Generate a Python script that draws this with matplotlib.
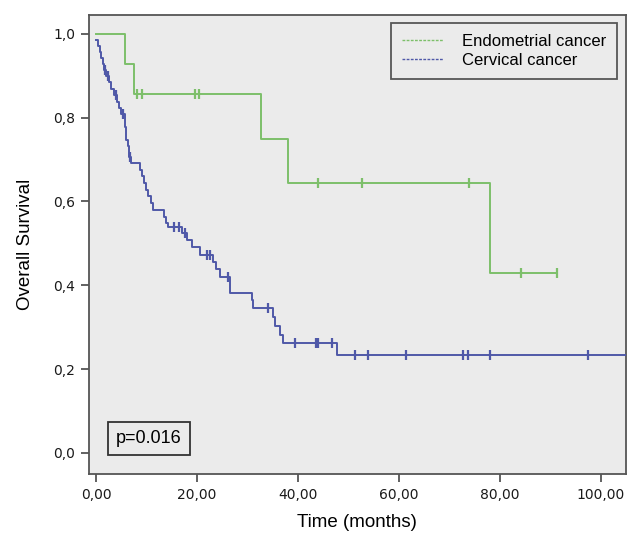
import numpy as np
import matplotlib
matplotlib.use("Agg")
import matplotlib.pyplot as plt

# Kaplan-Meier curves (time in months, survival)
endo_time = [0.0, 5.7, 7.5, 32.7, 38.0, 78.0, 91.3]
endo_surv = [1.0, 0.929, 0.857, 0.750, 0.643, 0.429, 0.429]
endo_cens = [8.1, 9.1, 19.6, 20.4, 44.0, 52.7, 73.9, 84.2, 91.3]

cerv_time = [0.0, 0.4, 0.7, 1.0, 1.3, 1.6, 2.0, 2.6, 3.0, 3.5, 4.1, 4.6, 5.0,
             5.7, 5.8, 5.9, 6.0, 6.3, 6.5, 6.6, 7.0, 8.7, 9.1, 9.5, 9.8, 10.2,
             10.8, 11.3, 13.4, 13.9, 14.3, 17.0, 18.0, 19.0, 20.5, 23.2, 23.8,
             24.6, 26.5, 26.6, 30.9, 31.0, 35.0, 35.4, 36.4, 37.0, 47.7, 105.0]
cerv_surv = [0.986, 0.971, 0.957, 0.942, 0.928, 0.913, 0.899, 0.884, 0.869,
             0.854, 0.838, 0.823, 0.808, 0.792, 0.777, 0.762, 0.747, 0.732,
             0.717, 0.707, 0.692, 0.676, 0.660, 0.644, 0.628, 0.612, 0.596,
             0.580, 0.564, 0.548, 0.540, 0.525, 0.508, 0.491, 0.473, 0.455,
             0.438, 0.420, 0.400, 0.382, 0.364, 0.346, 0.324, 0.302, 0.282,
             0.263, 0.234, 0.234]
cerv_cens = [1.8, 2.4, 4.0, 5.3, 6.8, 15.5, 16.4, 17.6, 21.9, 22.6, 26.1, 34.1,
             39.4, 43.5, 44.0, 46.7, 51.3, 53.9, 61.4, 72.6, 73.7, 78.0, 97.4]

y_ticks = [0.0, 0.2, 0.4, 0.6, 0.8, 1.0]
y_labels = ["0,0", "0,2", "0,4", "0,6", "0,8", "1,0"]
x_ticks = [0, 20, 40, 60, 80, 100]
x_labels = ["0,00", "20,00", "40,00", "60,00", "80,00", "100,00"]

green = "#7dbf6a"
blue = "#4f58a8"
frame = "#555555"
bg = "#ebebeb"

fig = plt.figure(figsize=(6.36, 5.33), dpi=100)
ax = fig.add_axes([0.140, 0.111, 0.844, 0.861])
ax.set_facecolor(bg)


def surv_at(times, survs, t):
    i = np.searchsorted(times, t, side="right") - 1
    return np.asarray(survs)[i]


for tt, ss, cc, col, name in [(endo_time, endo_surv, endo_cens, green, "Endometrial cancer"),
                              (cerv_time, cerv_surv, cerv_cens, blue, "Cervical cancer")]:
    ax.step(tt, ss, where="post", color=col, lw=1.4, zorder=3)
    ax.plot(cc, surv_at(tt, ss, cc), ls="none", marker="|", ms=6.5, mew=1.6,
            color=col, zorder=4)
    # legend proxy, dotted like the SPSS legend
    ax.plot([], [], color=col, ls=(0, (2, 1)), lw=1.0, label=name)

ax.set_xlim(-1.4, 104.95)
ax.set_ylim(-0.05, 1.045)
ax.set_xticks(x_ticks)
ax.set_xticklabels(x_labels)
ax.set_yticks(y_ticks)
ax.set_yticklabels(y_labels)
ax.tick_params(direction="out", length=6, width=1.3, color=frame,
               labelsize=10, labelcolor="#1a1a1a", pad=4)
for sp in ax.spines.values():
    sp.set_color(frame)
    sp.set_linewidth(1.3)

ax.set_xlabel("Time (months)", fontsize=13.5, family="Liberation Sans", labelpad=9)
ax.set_ylabel("Overall Survival", fontsize=13.5, family="Liberation Sans", labelpad=14)

leg = ax.legend(loc="upper right", bbox_to_anchor=(0.983, 0.983), frameon=True,
                fancybox=False, facecolor=bg, edgecolor="#333333",
                prop={"family": "Liberation Sans", "size": 12},
                handlelength=2.5, handletextpad=1.1, borderpad=0.65,
                borderaxespad=0.0, labelspacing=0.25)
leg.get_frame().set_linewidth(1.3)

ax.text(0.05, 0.058, "p=0.016", transform=ax.transAxes, fontsize=13,
        family="Liberation Sans", va="bottom", ha="left",
        bbox=dict(boxstyle="square,pad=0.45", fc=bg, ec="#333333", lw=1.3))

fig.savefig("out.png", dpi=100, facecolor="white")
